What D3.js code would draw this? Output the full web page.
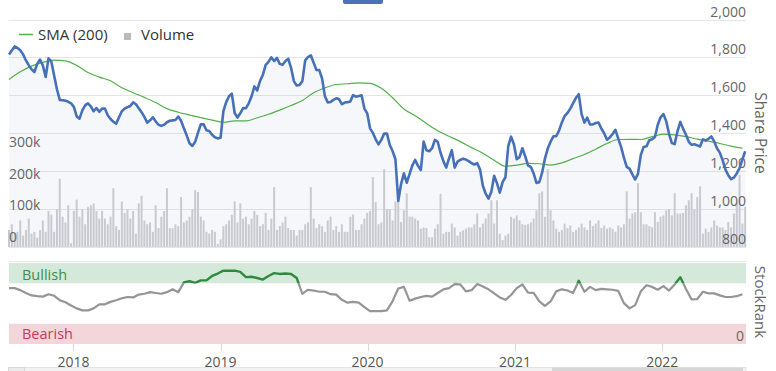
<!DOCTYPE html>
<html>
<head>
<meta charset="utf-8">
<script src="https://cdn.jsdelivr.net/npm/d3@7"></script>
<style>
  body { margin: 0; background: #fff; }
  svg { display: block; font-family: "Open Sans", sans-serif; }
</style>
</head>
<body>
<script>
// weekly closes, first point on startDate
var startDate = new Date(2017, 6, 25);
var endDate = new Date(2022, 6, 28);

var priceValues = [
  1816,1837,1858,1850,1838,1816,1784,1759,1737,1723,
  1766,1789,1758,1697,1795,1779,1705,1632,1576,1574,
  1572,1566,1558,1539,1489,1477,1521,1547,1558,1542,
  1516,1533,1513,1530,1530,1495,1475,1461,1450,1484,
  1516,1530,1538,1544,1563,1553,1532,1511,1486,1456,
  1468,1484,1463,1445,1439,1445,1458,1466,1468,1470,
  1488,1466,1426,1389,1347,1333,1355,1403,1447,1447,
  1416,1412,1392,1379,1373,1376,1516,1564,1595,1609,
  1507,1483,1505,1533,1532,1558,1595,1647,1626,1676,
  1708,1761,1777,1800,1781,1797,1766,1761,1781,1793,
  1745,1675,1652,1655,1675,1784,1802,1811,1772,1734,
  1733,1689,1595,1563,1565,1576,1584,1580,1553,1562,
  1564,1568,1601,1593,1596,1600,1530,1505,1426,1402,
  1368,1341,1365,1398,1398,1338,1306,1263,1043,1132,
  1189,1139,1184,1231,1259,1228,1206,1356,1310,1305,
  1321,1365,1355,1297,1253,1219,1267,1311,1219,1250,
  1259,1266,1261,1253,1242,1235,1242,1209,1123,1081,
  1055,1091,1176,1137,1087,1142,1168,1332,1382,1342,
  1263,1274,1321,1279,1230,1223,1188,1138,1142,1192,
  1266,1319,1355,1384,1384,1414,1457,1491,1507,1530,
  1559,1587,1606,1501,1456,1482,1446,1447,1454,1457,
  1425,1400,1366,1378,1396,1418,1372,1328,1271,1223,
  1213,1183,1156,1187,1286,1328,1331,1363,1368,1380,
  1445,1484,1501,1464,1397,1348,1343,1411,1460,1423,
  1392,1355,1339,1342,1336,1330,1368,1361,1371,1383,
  1357,1321,1298,1258,1208,1179,1158,1166,1188,1216,
  1261,1305
];

// SMA (200), one value every 4 weeks
var smaValues = [
  1684,1724,1754,1774,1786,1782,1758,1720,1696,1677,
  1640,1614,1589,1562,1530,1511,1496,1482,1469,1458,
  1465,1465,1482,1500,1522,1546,1573,1614,1639,1657,
  1661,1666,1663,1637,1587,1528,1492,1452,1413,1384,
  1356,1324,1295,1258,1226,1232,1241,1239,1232,1244,
  1266,1288,1316,1346,1367,1368,1367,1382,1395,1391,
  1382,1369,1358,1346,1332,1321
];

// weekly volume, thousands
var volumeValues = [
  54,72,42,48,84,36,54,90,42,48,
  30,54,84,48,114,102,48,120,216,96,
  78,132,12,114,150,96,120,72,126,132,
  138,114,90,114,90,72,96,186,66,54,
  144,108,120,90,114,42,138,162,84,72,
  78,48,132,60,96,114,186,60,60,72,
  66,158,78,84,96,120,180,174,96,84,
  48,42,54,48,10,24,66,72,84,102,
  144,78,138,90,96,72,90,114,102,66,
  72,108,54,90,190,54,66,78,96,60,
  54,54,36,54,54,72,78,190,90,60,
  72,66,48,84,96,54,66,48,72,48,
  48,96,103,54,54,72,90,108,114,221,
  142,72,78,246,120,120,84,144,151,79,
  116,170,96,96,90,84,58,62,60,31,
  31,58,72,168,42,48,48,74,62,36,
  48,53,58,62,62,72,106,62,74,90,
  106,148,74,148,42,22,36,42,96,90,
  100,84,72,70,72,78,90,116,170,176,
  96,246,116,84,58,48,54,74,60,68,
  48,54,62,74,62,54,84,66,74,84,
  60,68,58,62,58,48,68,62,72,176,
  90,106,110,202,110,72,72,66,62,110,
  79,96,100,116,120,100,170,106,106,108,
  132,148,170,120,158,192,42,58,48,62,
  84,68,62,62,54,79,62,106,142,228,
  74,127
];

// StockRank, one value every 2 weeks
var rankValues = [
  69,69,66.5,63,60,59,58.5,61.5,59.5,54,
  51.5,47.5,44,41.5,41.5,44,49,49,52,54,
  56.5,58,57.5,61,62,64,63,62,64,67.5,
  64,76,77.5,75.5,78.5,78.5,84,87,90.5,90.5,
  90.5,89,82.5,83,81.5,79.5,84,87.5,86.5,87,
  86.5,81.5,62,67,66,64.5,64.5,61.5,61,54.5,
  51,52,51,45.5,40.5,40.5,40.5,41.5,53,68.5,
  70.5,53.5,56,58,59.5,58.5,63,67.5,69,74,
  73.5,65,66.5,74,71,67.5,62.5,57.5,54.5,60.5,
  69,73.5,63.5,63,52.5,47,52.5,65,67.5,66,
  63,78,64.5,70.5,66.5,68,67.5,67,65.5,50.5,
  44,48,65,72.5,70.5,67,71.5,66,73.5,82.5,
  68,55,55.5,64.5,62.5,62.5,60,58,58,59,
  61.5
];

var yearTicks = [2018, 2019, 2020, 2021, 2022];
var priceTicks = [800, 1000, 1200, 1400, 1600, 1800, 2000];
var volumeTicks = [0, 100, 200, 300];

var W = 776, H = 371;
var left = 9, right = 746;

var svg = d3.select("body").append("svg").attr("width", W).attr("height", H);

var x = d3.scaleTime().domain([startDate, endDate]).range([left, right]);
var yPrice = d3.scaleLinear().domain([800, 2000]).range([247, 19.5]);
var yVol = d3.scaleLinear().domain([0, 720]).range([247, 19.5]);
var yRank = d3.scaleLinear().domain([0, 100]).range([344, 263]);

function dayOffset(n) { return d3.timeDay.offset(startDate, n); }

var priceData = priceValues.map(function (v, i) { return {date: dayOffset(i * 7), v: v}; });
var smaData = smaValues.map(function (v, i) { return {date: dayOffset(i * 28), v: v}; });
var volData = volumeValues.map(function (v, i) { return {date: dayOffset(i * 7), v: v}; });
var rankData = rankValues.map(function (v, i) { return {date: dayOffset(i * 14), v: v}; });

// top tab
svg.append("rect").attr("x", 343).attr("y", -4).attr("width", 40).attr("height", 8)
  .attr("rx", 2).style("fill", "#4a72b9");

// price gridlines
svg.selectAll("line.grid").data(priceTicks).enter().append("line")
  .attr("class", "grid")
  .attr("x1", left).attr("x2", right)
  .attr("y1", function (d) { return Math.round(yPrice(d)) + 0.5; })
  .attr("y2", function (d) { return Math.round(yPrice(d)) + 0.5; })
  .style("stroke", "#e6e6e6").style("stroke-width", 1);

// area under price
var area = d3.area()
  .x(function (d) { return x(d.date); })
  .y0(247)
  .y1(function (d) { return yPrice(d.v); });
svg.append("path").datum(priceData).attr("d", area)
  .style("fill", "#4671b8").style("fill-opacity", 0.055);

// volume bars
svg.selectAll("rect.vol").data(volData).enter().append("rect")
  .attr("class", "vol")
  .attr("x", function (d) { return x(d.date) - 1; })
  .attr("width", 2)
  .attr("y", function (d) { return yVol(d.v); })
  .attr("height", function (d) { return yVol(0) - yVol(d.v); })
  .style("fill", "#c9cad0");

// right price labels
svg.selectAll("text.plab").data(priceTicks).enter().append("text")
  .attr("class", "plab")
  .attr("x", right).attr("y", function (d) { return yPrice(d) - 3; })
  .attr("text-anchor", "end")
  .style("font-size", "14px").style("fill", "#666")
  .text(function (d) { return d3.format(",")(d); });

// left volume labels
svg.selectAll("text.vlab").data(volumeTicks).enter().append("text")
  .attr("class", "vlab")
  .attr("x", left).attr("y", function (d) { return yVol(d) - 5; })
  .style("font-size", "14px").style("fill", "#666")
  .text(function (d) { return d === 0 ? "0" : d + "k"; });

// SMA line
var smaLine = d3.line()
  .x(function (d) { return x(d.date); })
  .y(function (d) { return yPrice(d.v); })
  .curve(d3.curveMonotoneX);
svg.append("path").datum(smaData).attr("d", smaLine)
  .style("fill", "none").style("stroke", "#52b04a").style("stroke-width", 1.2);

// price line
var priceLine = d3.line()
  .x(function (d) { return x(d.date); })
  .y(function (d) { return yPrice(d.v); });
svg.append("path").datum(priceData).attr("d", priceLine)
  .style("fill", "none").style("stroke", "#4671b8").style("stroke-width", 2.6)
  .style("stroke-linejoin", "round");

// Share Price title
svg.append("text").attr("transform", "translate(755,133) rotate(90)")
  .attr("text-anchor", "middle")
  .style("font-size", "15.5px").style("fill", "#666")
  .text("Share Price");

// legend
svg.append("line").attr("x1", 19).attr("x2", 33).attr("y1", 34.5).attr("y2", 34.5)
  .style("stroke", "#52b04a").style("stroke-width", 1.5);
svg.append("text").attr("x", 38).attr("y", 40)
  .style("font-size", "15px").style("fill", "#333").text("SMA (200)");
svg.append("rect").attr("x", 124).attr("y", 33).attr("width", 7).attr("height", 7)
  .style("fill", "#b9babf");
svg.append("text").attr("x", 141).attr("y", 40)
  .style("font-size", "15px").style("fill", "#333").text("Volume");

// StockRank panel
svg.append("line").attr("x1", left).attr("x2", right).attr("y1", 261.5).attr("y2", 261.5)
  .style("stroke", "#e6e6e6");
svg.append("rect").attr("x", left).attr("width", right - left)
  .attr("y", yRank(100)).attr("height", yRank(75) - yRank(100))
  .style("fill", "#d4e9da");
svg.append("rect").attr("x", left).attr("width", right - left)
  .attr("y", yRank(25)).attr("height", yRank(0) - yRank(25))
  .style("fill", "#f3d6da");
svg.append("text").attr("x", 22).attr("y", 280)
  .style("font-size", "14.5px").style("fill", "#3e8e48").text("Bullish");
svg.append("text").attr("x", 22).attr("y", 339)
  .style("font-size", "14.5px").style("fill", "#c8385f").text("Bearish");
svg.append("text").attr("x", 744).attr("y", 341).attr("text-anchor", "end")
  .style("font-size", "14px").style("fill", "#666").text("0");

var defs = svg.append("defs");
defs.append("clipPath").attr("id", "clipHigh").append("rect")
  .attr("x", 0).attr("y", 250).attr("width", W).attr("height", yRank(75) - 250);
defs.append("clipPath").attr("id", "clipLow").append("rect")
  .attr("x", 0).attr("y", yRank(75)).attr("width", W).attr("height", 100);

var rankLine = d3.line()
  .x(function (d) { return x(d.date); })
  .y(function (d) { return yRank(d.v); });
svg.append("path").datum(rankData).attr("d", rankLine)
  .attr("clip-path", "url(#clipLow)")
  .style("fill", "none").style("stroke", "#959595").style("stroke-width", 2.2)
  .style("stroke-linejoin", "round");
svg.append("path").datum(rankData).attr("d", rankLine)
  .attr("clip-path", "url(#clipHigh)")
  .style("fill", "none").style("stroke", "#2e8b3e").style("stroke-width", 2.4)
  .style("stroke-linejoin", "round");

svg.append("text").attr("transform", "translate(755,302) rotate(90)")
  .attr("text-anchor", "middle")
  .style("font-size", "15px").style("fill", "#666")
  .text("StockRank");

// x axis
var years = yearTicks.map(function (y) { return new Date(y, 0, 1); });
svg.selectAll("line.xtick").data(years).enter().append("line")
  .attr("class", "xtick")
  .attr("x1", function (d) { return Math.round(x(d)) + 0.5; })
  .attr("x2", function (d) { return Math.round(x(d)) + 0.5; })
  .attr("y1", 344).attr("y2", 351)
  .style("stroke", "#d8d8d8");
svg.selectAll("text.xlab").data(years).enter().append("text")
  .attr("class", "xlab")
  .attr("x", function (d) { return x(d); }).attr("y", 367)
  .attr("text-anchor", "middle")
  .style("font-size", "14px").style("fill", "#555")
  .text(function (d) { return d.getFullYear(); });

// scrollbar
svg.append("rect").attr("x", left).attr("y", 367.5).attr("width", right - left).attr("height", 8)
  .style("fill", "#f2f2f2").style("stroke", "#e4e4e4");
svg.append("rect").attr("x", 8.5).attr("y", 367.5).attr("width", 16).attr("height", 8)
  .style("fill", "#ebebeb").style("stroke", "#d8d8d8");
svg.append("rect").attr("x", 552).attr("y", 367.5).attr("width", 191).attr("height", 8)
  .style("fill", "#d6d6d6");
</script>
</body>
</html>
